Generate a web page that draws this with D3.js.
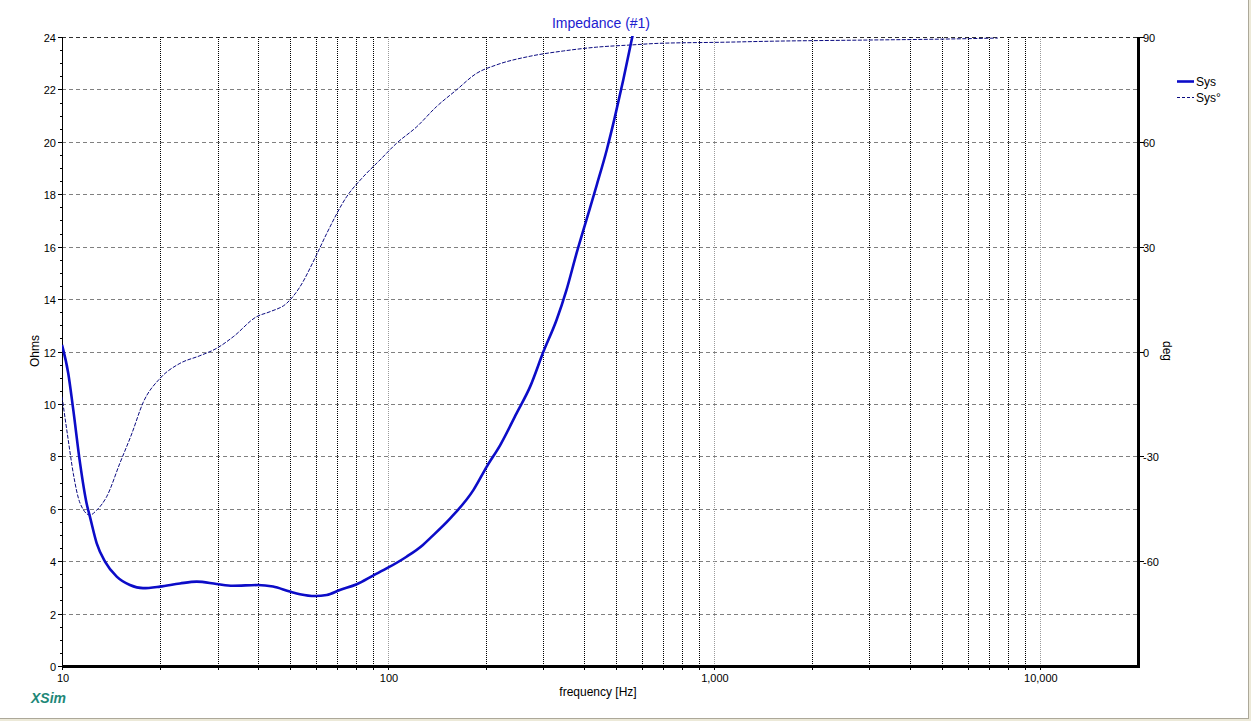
<!DOCTYPE html>
<html>
<head>
<meta charset="utf-8">
<script src="https://cdn.jsdelivr.net/npm/d3@7"></script>
<style>
  html, body { margin: 0; padding: 0; background: #fff; }
  svg { display: block; font-family: Arial, "Liberation Sans", sans-serif; }
</style>
</head>
<body>
<svg id="chart" width="1251" height="721"></svg>
<script>
// ---- data ----
const impFreq = [10, 10.45, 10.83, 11.36, 11.9, 12.18, 12.78, 13.55, 14.72, 16.16, 17.72, 19.98, 23.0, 25.9, 29.8, 33.4, 39.9, 44.4, 50, 53.7, 59.7, 64.9, 71.2, 80.2, 90, 100, 114, 128, 134.5, 155, 183, 201, 221, 248, 273, 300, 329, 353, 379, 407, 437, 469, 497, 527, 559, 600];
const impOhms = [12.25, 11.17, 9.77, 7.74, 6.2, 5.7, 4.68, 3.98, 3.41, 3.09, 2.97, 3.03, 3.15, 3.22, 3.13, 3.06, 3.09, 3.03, 2.84, 2.74, 2.67, 2.71, 2.90, 3.12, 3.45, 3.75, 4.17, 4.62, 4.87, 5.62, 6.72, 7.61, 8.43, 9.64, 10.66, 12.0, 13.2, 14.35, 15.75, 17.05, 18.35, 19.69, 20.96, 22.36, 23.88, 25.6];

const phaseFreq = [10, 10.45, 10.83, 11.36, 12.18, 12.78, 13.7, 15.06, 16.36, 17.76, 19.98, 23.0, 26.5, 29.8, 33.5, 39.6, 43.5, 48.9, 53.7, 59.7, 64.9, 74.7, 84.0, 94.5, 106.3, 122.5, 141, 162, 187, 215, 273, 345, 437, 552, 683, 1066, 1517, 2765, 5040, 7430];
const phaseDeg = [-12.9, -25.3, -34.9, -43.4, -46.8, -45.4, -41.6, -31.9, -23.6, -14.5, -7.7, -3.4, -1.2, 0.9, 4.2, 10.0, 11.4, 13.8, 18.5, 26.7, 33.8, 44.3, 50.0, 54.8, 59.6, 64.3, 70.1, 74.8, 79.6, 82.0, 84.5, 86.0, 87.1, 87.7, 88.2, 88.5, 88.8, 89.1, 89.4, 89.7];

const xTickValues = [10, 100, 1000, 10000];
const xTickLabels = ["10", "100", "1,000", "10,000"];
const leftTicks = [0, 2, 4, 6, 8, 10, 12, 14, 16, 18, 20, 22, 24];
const rightTicks = [-60, -30, 0, 30, 60, 90];
const minorFreqs = [20,30,40,50,60,70,80,90,200,300,400,500,600,700,800,900,2000,3000,4000,5000,6000,7000,8000,9000];
const decadeFreqs = [100, 1000, 10000];
const seriesNames = ["Sys", "Sys°"];

// ---- layout ----
const L = 62, R = 1138, T = 37, B = 666;
const svg = d3.select("#chart");
const x = d3.scaleLog().domain([10, 20000]).range([L, R]);
const yL = d3.scaleLinear().domain([0, 24]).range([B, T]);
const yR = d3.scaleLinear().domain([-90, 90]).range([B, T]);

const lineBlue = "#0c0cc8";
const phaseBlue = "#0a0a80";

// window frame remnants
svg.append("rect").attr("x", 1248).attr("y", 0).attr("width", 3).attr("height", 721).attr("fill", "#ece9d8");
svg.append("line").attr("x1", 1248.5).attr("x2", 1248.5).attr("y1", 0).attr("y2", 718).attr("stroke", "#aca899");
svg.append("rect").attr("x", 0).attr("y", 718).attr("width", 1251).attr("height", 3).attr("fill", "#ece9d8");
svg.append("line").attr("x1", 0).attr("x2", 1249).attr("y1", 718.5).attr("y2", 718.5).attr("stroke", "#aca899");

// horizontal grid
const hg = svg.append("g");
leftTicks.filter(v => v > 0).forEach(v => {
  hg.append("line").attr("x1", L).attr("x2", R)
    .attr("y1", Math.round(yL(v)) + 0.5).attr("y2", Math.round(yL(v)) + 0.5)
    .attr("stroke", v === 24 ? "#303030" : "#808080").attr("stroke-dasharray", "4,3");
});

// vertical grid
const vg = svg.append("g");
minorFreqs.forEach(f => {
  vg.append("line").attr("x1", Math.round(x(f)) + 0.5).attr("x2", Math.round(x(f)) + 0.5)
    .attr("y1", T).attr("y2", B).attr("stroke", "#000").attr("stroke-dasharray", "1,1");
});
decadeFreqs.forEach(f => {
  vg.append("line").attr("x1", Math.round(x(f)) + 0.5).attr("x2", Math.round(x(f)) + 0.5)
    .attr("y1", T).attr("y2", B).attr("stroke", "#9a9a9a").attr("stroke-dasharray", "1,1");
});

// left axis
svg.append("line").attr("x1", L + 0.5).attr("x2", L + 0.5).attr("y1", T).attr("y2", B).attr("stroke", "#000");
const gl = svg.append("g").attr("font-size", 11).attr("fill", "#000");
leftTicks.forEach(v => {
  const yy = Math.round(yL(v)) + 0.5;
  gl.append("line").attr("x1", L - 4).attr("x2", L).attr("y1", yy).attr("y2", yy).attr("stroke", "#000");
  gl.append("text").attr("x", L - 6).attr("y", yy + 4).attr("text-anchor", "end").text(v);
});
d3.range(0.5, 24, 0.5).filter(v => v % 2 !== 0).forEach(v => {
  const yy = Math.round(yL(v)) + 0.5;
  gl.append("line").attr("x1", L - 2).attr("x2", L).attr("y1", yy).attr("y2", yy).attr("stroke", "#000");
});

// right axis
svg.append("line").attr("x1", R + 0.5).attr("x2", R + 0.5).attr("y1", T).attr("y2", B + 1).attr("stroke", "#000").attr("stroke-width", 3);
const gr = svg.append("g").attr("font-size", 11).attr("fill", "#000");
rightTicks.forEach(v => {
  const yy = Math.round(yR(v)) + 0.5;
  gr.append("line").attr("x1", R).attr("x2", R + 6).attr("y1", yy).attr("y2", yy).attr("stroke", "#000");
  gr.append("text").attr("x", R + 5).attr("y", yy + 4).attr("text-anchor", "start").text(v);
});

// bottom axis
svg.append("line").attr("x1", L).attr("x2", R + 2).attr("y1", B + 0.5).attr("y2", B + 0.5).attr("stroke", "#000").attr("stroke-width", 3);
const gb = svg.append("g").attr("font-size", 11).attr("fill", "#000");
minorFreqs.concat(decadeFreqs).forEach(f => {
  const xx = Math.round(x(f)) + 0.5;
  gb.append("line").attr("x1", xx).attr("x2", xx).attr("y1", B).attr("y2", B + 4).attr("stroke", "#000");
});
xTickValues.forEach((f, i) => {
  const xx = x(f);
  gb.append("line").attr("x1", Math.round(xx) + 0.5).attr("x2", Math.round(xx) + 0.5).attr("y1", B).attr("y2", B + 4).attr("stroke", "#000");
  gb.append("text").attr("x", xx + 1).attr("y", B + 16).attr("text-anchor", "middle").text(xTickLabels[i]);
});

// clip
svg.append("clipPath").attr("id", "plotclip").append("rect")
  .attr("x", L).attr("y", T - 1).attr("width", R - L).attr("height", B - T + 1);

const impData = impFreq.map((f, i) => [f, impOhms[i]]);
const phData = phaseFreq.map((f, i) => [f, phaseDeg[i]]);

// phase line (thin, dashed)
svg.append("path").datum(phData)
  .attr("clip-path", "url(#plotclip)")
  .attr("fill", "none").attr("stroke", phaseBlue).attr("stroke-width", 1)
  .attr("stroke-dasharray", "4,1.5")
  .attr("d", d3.line().x(d => x(d[0])).y(d => yR(d[1])).curve(d3.curveMonotoneX));

// impedance line (thick)
svg.append("path").datum(impData)
  .attr("clip-path", "url(#plotclip)")
  .attr("fill", "none").attr("stroke", lineBlue).attr("stroke-width", 2.6)
  .attr("stroke-linejoin", "round")
  .attr("d", d3.line().x(d => x(d[0])).y(d => yL(d[1])).curve(d3.curveMonotoneX));

// titles
svg.append("text").attr("x", 601).attr("y", 28).attr("text-anchor", "middle")
  .attr("font-size", 14).attr("fill", "#2020d0").text("Impedance (#1)");
svg.append("text").attr("x", 598).attr("y", 696).attr("text-anchor", "middle")
  .attr("font-size", 12).attr("fill", "#000").text("frequency [Hz]");
svg.append("text").attr("transform", "translate(39,351) rotate(-90)").attr("text-anchor", "middle")
  .attr("font-size", 12).attr("fill", "#000").text("Ohms");
svg.append("text").attr("transform", "translate(1163,351) rotate(90)").attr("text-anchor", "middle")
  .attr("font-size", 12).attr("fill", "#000").text("deg");
svg.append("text").attr("x", 31).attr("y", 703)
  .attr("font-size", 14).attr("font-weight", "bold").attr("font-style", "italic")
  .attr("fill", "#1e8878").text("XSim");

// legend
const lg = svg.append("g").attr("font-size", 12).attr("fill", "#000");
lg.append("line").attr("x1", 1177).attr("x2", 1194).attr("y1", 81.5).attr("y2", 81.5)
  .attr("stroke", lineBlue).attr("stroke-width", 2.6);
lg.append("text").attr("x", 1196).attr("y", 86).text(seriesNames[0]);
lg.append("line").attr("x1", 1177).attr("x2", 1194).attr("y1", 97.5).attr("y2", 97.5)
  .attr("stroke", phaseBlue).attr("stroke-width", 1).attr("stroke-dasharray", "3,2");
lg.append("text").attr("x", 1196).attr("y", 102).text(seriesNames[1]);
</script>
</body>
</html>
